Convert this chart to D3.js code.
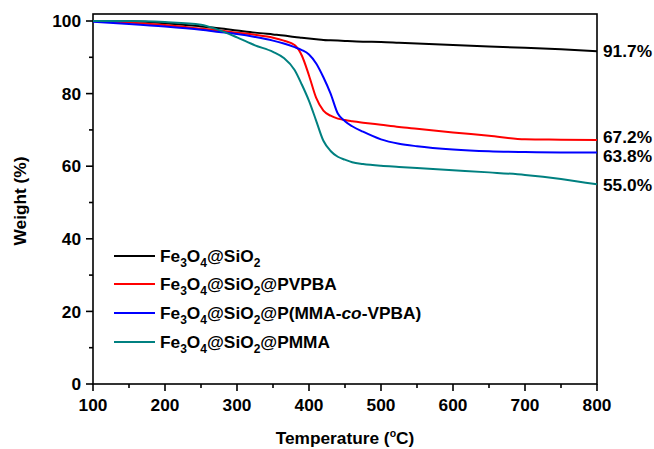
<!DOCTYPE html>
<html>
<head>
<meta charset="utf-8">
<script src="https://cdn.jsdelivr.net/npm/d3@7"></script>
<style>
  html, body { margin: 0; padding: 0; background: #fff; }
  svg { display: block; }
  text { font-family: "Liberation Sans", Arial, sans-serif; font-weight: bold; fill: #000; }
</style>
</head>
<body>
<svg id="chart" width="654" height="449"></svg>
<script>
// ---- data ----
const temps = [100,150,200,250,275,300,325,350,365,380,390,400,410,420,430,440,450,460,475,500,525,550,600,650,700,750,800];
const wSiO2  = [100,99.9,99.4,98.5,98.0,97.4,96.8,96.3,96.0,95.6,95.4,95.2,95.0,94.8,94.7,94.6,94.5,94.4,94.3,94.2,94.0,93.8,93.4,93.0,92.6,92.2,91.7];
const wPVPBA = [100,99.6,98.9,97.9,97.4,96.8,96.2,95.4,94.6,93.4,90.5,85.0,78.8,75.3,73.9,73.1,72.7,72.4,72.0,71.4,70.8,70.3,69.3,68.4,67.4,67.3,67.2];
const wCopo  = [99.8,99.2,98.5,97.6,97.0,96.4,95.6,94.6,93.8,92.8,92.0,90.8,88.3,84.5,80.0,74.5,72.4,71.0,69.5,67.4,66.2,65.5,64.6,64.1,63.9,63.8,63.8];
const wPMMA  = [100,100,99.7,99.0,97.5,95.5,93.3,91.5,89.8,86.5,82.5,78.0,72.5,67.0,64.2,62.6,61.8,61.1,60.6,60.1,59.8,59.5,58.9,58.3,57.6,56.5,55.0];
const seriesColors = ["#000000","#ff0000","#0000ff","#008080"];
const endLabels = ["91.7%","67.2%","63.8%","55.0%"];
const xTicks = [100,200,300,400,500,600,700,800];
const yTicks = [0,20,40,60,80,100];

const allSeries = [wSiO2, wPVPBA, wCopo, wPMMA];

const svg = d3.select("#chart");
const L = 93, R = 597, T = 14, B = 384;
const FS = 17.3;

const x = d3.scaleLinear().domain([100, 800]).range([L, R]);
const y = d3.scaleLinear().domain([0, 101.93]).range([B, T]);

// frame
svg.append("rect").attr("x", L).attr("y", T).attr("width", R - L).attr("height", B - T)
  .attr("fill", "none").attr("stroke", "#000").attr("stroke-width", 1.6);

// x axis
const xMinor = d3.range(150, 800, 100);
svg.append("g").selectAll("line").data(xMinor).join("line")
  .attr("x1", d => x(d)).attr("x2", d => x(d)).attr("y1", B).attr("y2", B + 4)
  .attr("stroke", "#000").attr("stroke-width", 1.6);
svg.append("g").selectAll("line").data(xTicks).join("line")
  .attr("x1", d => x(d)).attr("x2", d => x(d)).attr("y1", B).attr("y2", B + 7)
  .attr("stroke", "#000").attr("stroke-width", 1.6);
svg.append("g").selectAll("text").data(xTicks).join("text")
  .attr("x", d => x(d)).attr("y", 411).attr("text-anchor", "middle")
  .attr("font-size", FS).text(d => d);

// y axis
const yMinor = d3.range(10, 100, 20);
svg.append("g").selectAll("line").data(yMinor).join("line")
  .attr("x1", L - 4).attr("x2", L).attr("y1", d => y(d)).attr("y2", d => y(d))
  .attr("stroke", "#000").attr("stroke-width", 1.6);
svg.append("g").selectAll("line").data(yTicks).join("line")
  .attr("x1", L - 7).attr("x2", L).attr("y1", d => y(d)).attr("y2", d => y(d))
  .attr("stroke", "#000").attr("stroke-width", 1.6);
svg.append("g").selectAll("text").data(yTicks).join("text")
  .attr("x", L - 12).attr("y", d => y(d)).attr("dy", "0.36em").attr("text-anchor", "end")
  .attr("font-size", FS).text(d => d);

// axis titles
const xt = svg.append("text").attr("x", (L + R) / 2).attr("y", 444).attr("text-anchor", "middle").attr("font-size", FS);
xt.append("tspan").text("Temperature (");
xt.append("tspan").attr("font-size", 10.5).attr("dy", -7).text("o");
xt.append("tspan").attr("dy", 7).text("C)");

svg.append("text").attr("transform", "translate(26,201) rotate(-90)")
  .attr("text-anchor", "middle").attr("font-size", FS).text("Weight (%)");

// lines
const line = d3.line().x((d, i) => x(temps[i])).y(d => y(d)).curve(d3.curveMonotoneX);
allSeries.forEach((s, k) => {
  svg.append("path").datum(s).attr("d", line).attr("fill", "none")
    .attr("stroke", seriesColors[k]).attr("stroke-width", 2);
});

// end labels (spread apart where they would collide)
const labY = allSeries.map(s => y(s[s.length - 1]));
const minGap = 19.5;
for (let iter = 0; iter < 20; iter++) {
  for (let i = 0; i < labY.length - 1; i++) {
    const gap = labY[i + 1] - labY[i];
    if (gap < minGap) {
      const d = (minGap - gap) / 2;
      labY[i] -= d; labY[i + 1] += d;
    }
  }
}
allSeries.forEach((s, k) => {
  svg.append("text").attr("x", 603).attr("y", labY[k]).attr("dy", "0.36em")
    .attr("font-size", FS).text(endLabels[k]);
});

// legend
const legRows = [256, 284, 313, 342];
function sub(t, s) { t.append("tspan").attr("font-size", 12).attr("dy", 5).text(s); }
function base(t) {
  t.append("tspan").text("Fe"); sub(t, "3");
  t.append("tspan").attr("dy", -5).text("O"); sub(t, "4");
  t.append("tspan").attr("dy", -5).text("@SiO"); sub(t, "2");
}
const legendBuilders = [
  t => { base(t); },
  t => { base(t); t.append("tspan").attr("dy", -5).text("@PVPBA"); },
  t => { base(t); t.append("tspan").attr("dy", -5).text("@P(MMA-"); t.append("tspan").attr("font-style", "italic").text("co"); t.append("tspan").text("-VPBA)"); },
  t => { base(t); t.append("tspan").attr("dy", -5).text("@PMMA"); }
];
legRows.forEach((ry, k) => {
  svg.append("line").attr("x1", 114).attr("x2", 155).attr("y1", ry).attr("y2", ry)
    .attr("stroke", seriesColors[k]).attr("stroke-width", 2);
  const t = svg.append("text").attr("x", 160).attr("y", ry + 6).attr("font-size", FS);
  legendBuilders[k](t);
});
</script>
</body>
</html>
